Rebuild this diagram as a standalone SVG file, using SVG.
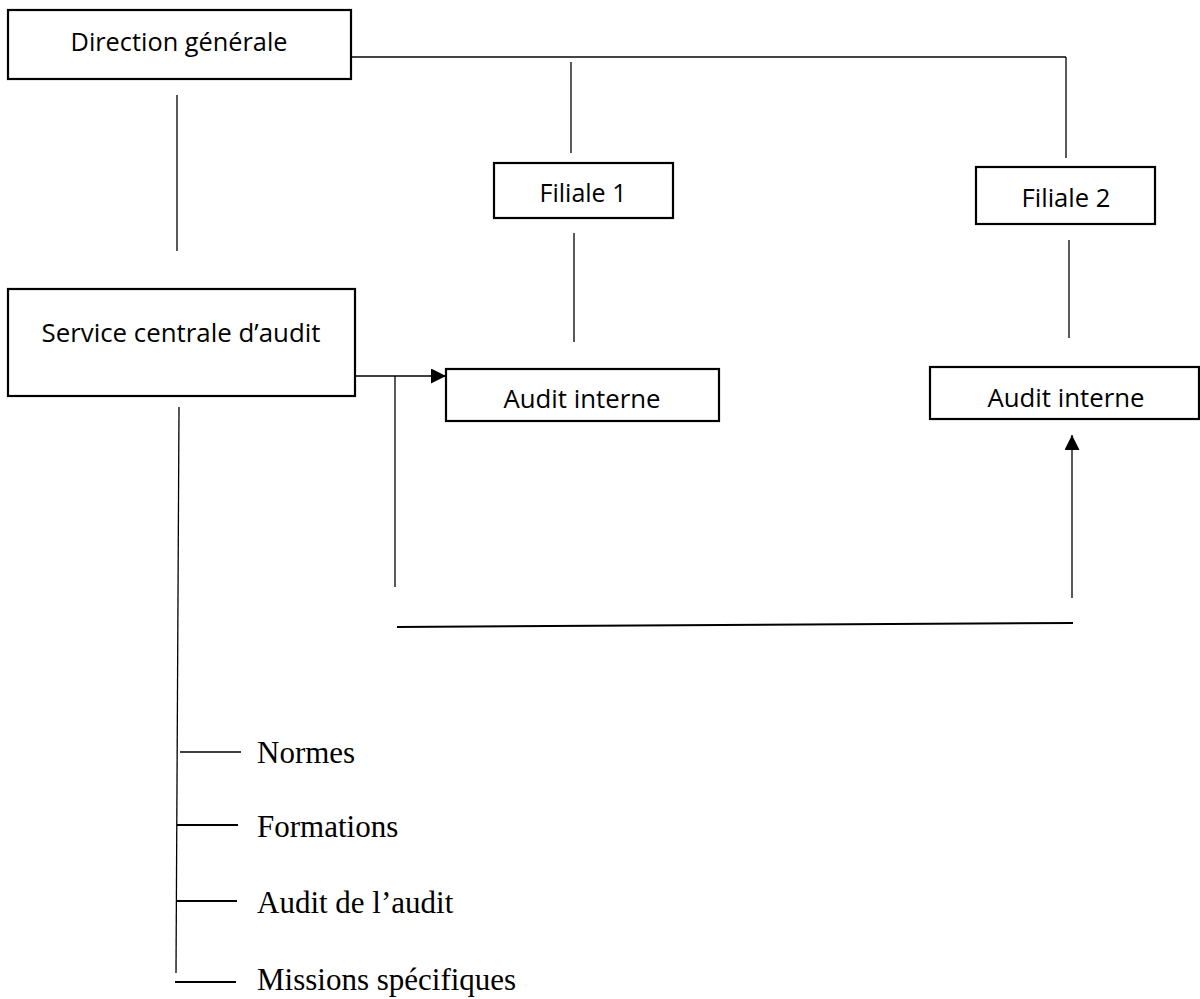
<svg xmlns="http://www.w3.org/2000/svg" width="1200" height="999" viewBox="0 0 1200 999">
<style>
.box{fill:#fff;stroke:#000;stroke-width:2.2}
.lbl{font-family:"Open Sans","Noto Sans",sans-serif;font-size:26px;fill:#000;text-anchor:middle}
.item{font-family:"Liberation Serif","Times New Roman",serif;font-size:31px;fill:#000}
.ln{stroke:#000;stroke-width:1.3;fill:none}
.lg{stroke:#444;stroke-width:2;fill:none}
.lt{stroke:#000;stroke-width:2;fill:none}
</style>
<defs>
<marker id="arr" viewBox="0 0 10 10" refX="10" refY="5" markerWidth="16" markerHeight="15" markerUnits="userSpaceOnUse" orient="auto">
<path d="M0,0 L10,5 L0,10 Z" fill="#000"/>
</marker>
</defs>
<g id="connectors">
<polyline class="lg" points="351,57 1066,57"/>
<line class="ln" x1="1066" y1="57" x2="1066" y2="158"/>
<line class="ln" x1="571" y1="62" x2="571" y2="153"/>
<line class="ln" x1="177" y1="95" x2="177" y2="251"/>
<line class="ln" x1="574" y1="233" x2="574" y2="342"/>
<line class="ln" x1="1069" y1="240" x2="1069" y2="338"/>
<line class="ln" x1="355" y1="376" x2="446" y2="376" marker-end="url(#arr)"/>
<line class="ln" x1="395" y1="376" x2="395" y2="587"/>
<line class="lt" x1="397" y1="627" x2="1073" y2="623"/>
<line class="ln" x1="1072" y1="598" x2="1072" y2="435" marker-end="url(#arr)"/>
<line class="ln" x1="179" y1="407" x2="176" y2="973"/>
<line class="ln" x1="180" y1="752" x2="241" y2="752"/>
<line class="lt" x1="177" y1="825" x2="238" y2="825"/>
<line class="lt" x1="176" y1="901" x2="237" y2="901"/>
<line class="lt" x1="175" y1="982" x2="236" y2="982"/>
</g>
<g id="direction-generale">
<rect class="box" x="8" y="10" width="343" height="69"/>
<text class="lbl" x="179" y="51" textLength="217" lengthAdjust="spacingAndGlyphs">Direction générale</text>
</g>
<g id="filiale-1">
<rect class="box" x="494" y="163" width="179" height="55"/>
<text class="lbl" x="583" y="202" textLength="87" lengthAdjust="spacingAndGlyphs">Filiale 1</text>
</g>
<g id="filiale-2">
<rect class="box" x="976" y="167" width="179" height="57"/>
<text class="lbl" x="1066" y="207" textLength="89" lengthAdjust="spacingAndGlyphs">Filiale 2</text>
</g>
<g id="service-centrale">
<rect class="box" x="8" y="289" width="347" height="107"/>
<text class="lbl" x="181" y="342" textLength="279" lengthAdjust="spacingAndGlyphs">Service centrale d’audit</text>
</g>
<g id="audit-interne-1">
<rect class="box" x="446" y="369" width="273" height="52"/>
<text class="lbl" x="582" y="408" textLength="157" lengthAdjust="spacingAndGlyphs">Audit interne</text>
</g>
<g id="audit-interne-2">
<rect class="box" x="930" y="367" width="269" height="52"/>
<text class="lbl" x="1066" y="407" textLength="157" lengthAdjust="spacingAndGlyphs">Audit interne</text>
</g>
<g id="normes"><text class="item" x="257" y="763">Normes</text></g>
<g id="formations"><text class="item" x="257" y="837">Formations</text></g>
<g id="audit-audit"><text class="item" x="257" y="913">Audit de l’audit</text></g>
<g id="missions"><text class="item" x="257" y="990">Missions spécifiques</text></g>
</svg>
